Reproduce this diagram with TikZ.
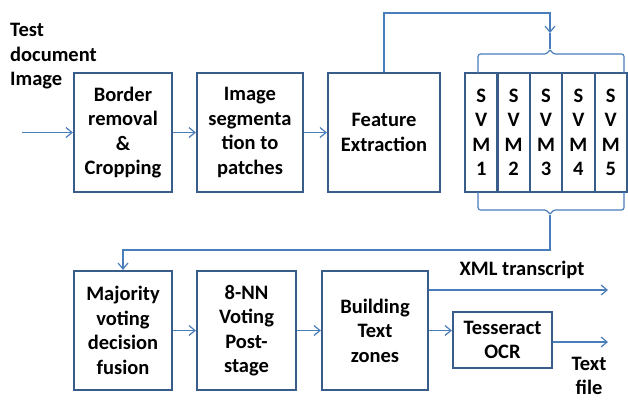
\documentclass[tikz,border=0pt]{standalone}
\usepackage{fontspec}
\setmainfont{Carlito}
\usetikzlibrary{arrows.meta}
\definecolor{boxblue}{RGB}{56,93,138}
\definecolor{lineblue}{RGB}{74,126,187}
\tikzstyle{block node} = [draw=boxblue, line width=2.2pt, align=center, inner sep=0pt, minimum height=119pt]
\tikzstyle{svm node}   = [block node, minimum width=32.4pt]
\tikzstyle{label node} = [inner sep=0pt, align=center]
\tikzstyle{conn}       = [draw=lineblue, line width=1.2pt, -{Straight Barb[length=6pt,width=10pt]}]
\tikzstyle{brace line} = [draw=lineblue, line width=1.2pt, rounded corners=2.5pt]

\begin{document}
\begin{tikzpicture}[x=1pt, y=-1pt,
                    font=\fontsize{20.5}{24.5}\selectfont\bfseries
                    ]
    \useasboundingbox (0,0) rectangle (628,400);

    % first row
    \node(border)[block node, minimum width=98pt]  at (123,132.5) {Border\\removal\\\&\\Cropping};
    \node(seg)   [block node, minimum width=106pt] at (250,132.5) {Image\\segmenta\\tion to\\patches};
    \node(feat)  [block node, minimum width=112pt] at (384,132.5) {Feature\\Extraction};
    \foreach \i in {1,...,5}
        \node(svm\i)[svm node] at ({465+32.4*(\i-0.5)},132.5) {S\\V\\M\\\i};

    % second row
    \node(maj)   [block node, minimum width=98pt]  at (123,330.5)   {Majority\\voting\\decision\\fusion};
    \node(nn)    [block node, minimum width=99pt]  at (246.5,330.5) {8-NN\\Voting\\Post-\\stage};
    \node(build) [block node, minimum width=106pt] at (375,330.5)   {Building\\Text\\zones};
    \node(tess)  [block node, minimum width=99pt, minimum height=56pt] at (502.5,340) {Tesseract\\OCR};

    \node(input)[label node, align=left, anchor=west] at (10,56.5) {Test\\document\\Image};
    \node(xml)  [label node] at (522,270) {XML transcript};
    \node(txt)  [label node] at (589,376) {Text\\file};

    \coordinate(in)      at (22,132.5);
    \coordinate(topbend) at (550,13);
    \coordinate(toptip)  at (550,33);
    \coordinate(bottip)  at (550,215);
    \coordinate(xmlend)  at (608,290);
    \coordinate(txtend)  at (608,342);

    \draw[conn](in)--(border);
    \draw[conn](border)--(seg);
    \draw[conn](seg)--(feat);
    \draw[conn](feat.north)|-(topbend)--(toptip);

    % braces round the svm block
    \draw[brace line](478,73)--(478,54)--(547,54)--(550,49)--(553,54)--(624,54)--(624,73);
    \draw[brace line](550,49)--(toptip);
    \draw[brace line](478,192)--(478,210)--(547,210)--(550,215)--(553,210)--(624,210)--(624,192);

    \draw[conn](bottip)|-([yshift=20pt]maj.north)--(maj.north);
    \draw[conn](maj)--(nn);
    \draw[conn](nn)--(build);
    \draw[conn](build.east)--(build.east-|tess.west);
    \draw[conn](build.east|-xmlend)--(xmlend);
    \draw[conn](tess.east|-txtend)--(txtend);

\end{tikzpicture}
\end{document}
